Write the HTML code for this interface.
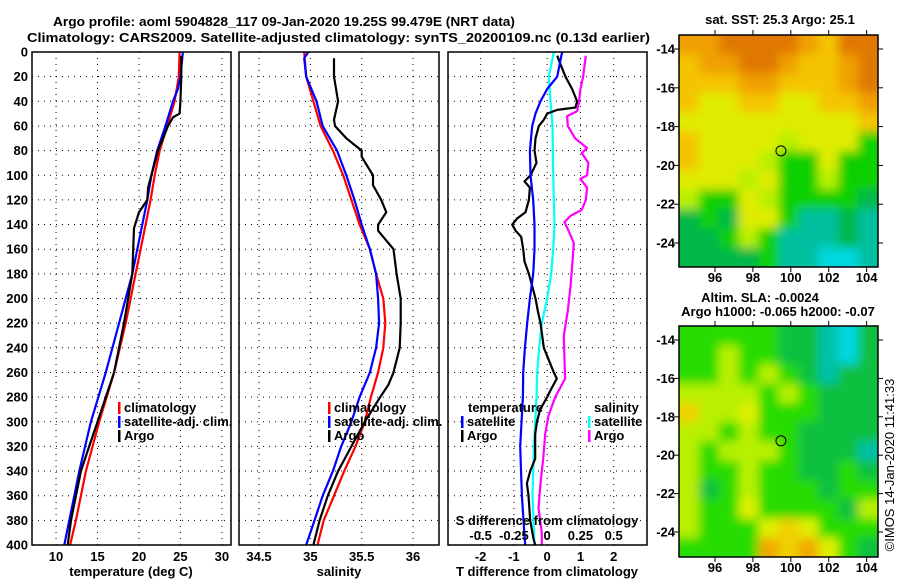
<!DOCTYPE html>
<html><head><meta charset="utf-8"><style>
html,body{margin:0;padding:0;background:#fff;}
svg text{font-family:"Liberation Sans",sans-serif;font-weight:bold;font-size:13px;fill:#000;}
</style></head><body>
<svg id="root" width="900" height="580" viewBox="0 0 900 580" xmlns="http://www.w3.org/2000/svg">
<defs>
<filter id="blur" x="-5%" y="-5%" width="110%" height="110%"><feGaussianBlur stdDeviation="5"/></filter>
<clipPath id="clipM1"><rect x="679" y="35" width="199" height="232"/></clipPath>
<clipPath id="clipM2"><rect x="679" y="326" width="199" height="231"/></clipPath>
</defs>
<text x="53" y="26" textLength="462" lengthAdjust="spacingAndGlyphs">Argo profile: aoml 5904828_117 09-Jan-2020 19.25S 99.479E (NRT data)</text>
<text x="27" y="42" textLength="623" lengthAdjust="spacingAndGlyphs">Climatology: CARS2009. Satellite-adjusted climatology: synTS_20200109.nc (0.13d earlier)</text>
<g id="g"></g>
</svg>
<script>
// ---------- data ----------
const depthTicks = [0,20,40,60,80,100,120,140,160,180,200,220,240,260,280,300,320,340,360,380,400];
const tempTicks = [10,15,20,25,30];
const salTicks = [34.5,35,35.5,36];
const salTickLabels = ["34.5","35","35.5","36"];
const tdiffTicks = [-2,-1,0,1,2];
const sdiffTicks = [-0.5,-0.25,0,0.25,0.5];
const sdiffTickLabels = ["-0.5","-0.25","0","0.25","0.5"];

const tClimDepth = [0,20,40,60,80,100,120,140,180,220,260,300,340,380,400];
const tClimVal   = [24.9,24.8,24.3,23.4,22.5,21.9,21.4,20.8,19.6,18.4,17.0,15.2,13.6,12.4,11.7];
const tSatDepth  = [0,20,30,40,60,80,100,120,140,180,220,260,300,340,380,400];
const tSatVal    = [25.3,25.0,24.7,24.1,23.2,22.2,21.5,21.0,20.4,19.2,17.6,16.0,14.2,12.8,11.6,11.0];
const tArgoDepth = [3,20,40,50,53,60,80,100,110,120,130,143,180,220,260,280,300,320,340,380,400];
const tArgoVal   = [25.1,25.1,25.0,24.9,24.1,23.5,22.3,21.5,21.1,21.0,20.0,19.4,19.2,18.2,17.0,16.0,15.0,14.0,13.0,11.8,11.4];

const sClimDepth = [0,20,40,60,80,100,120,140,160,180,200,220,240,260,280,300,320,340,360,380,400];
const sClimVal   = [34.94,34.96,35.03,35.10,35.22,35.32,35.40,35.48,35.58,35.64,35.71,35.73,35.71,35.66,35.59,35.53,35.44,35.33,35.23,35.13,35.07];
const sSatDepth  = [0,5,20,40,60,80,100,120,140,160,180,200,220,240,260,280,300,320,340,360,380,400];
const sSatVal    = [34.98,34.94,34.96,35.06,35.12,35.26,35.35,35.43,35.50,35.58,35.64,35.66,35.67,35.64,35.58,35.48,35.40,35.30,35.22,35.12,35.04,34.96];
const sArgoDepth = [5,20,40,55,60,70,80,85,100,108,120,130,140,145,160,180,200,220,240,260,270,280,300,320,340,360,380,400];
const sArgoVal   = [35.23,35.23,35.27,35.23,35.24,35.35,35.50,35.50,35.61,35.61,35.69,35.74,35.66,35.66,35.81,35.84,35.88,35.88,35.87,35.81,35.76,35.68,35.53,35.40,35.27,35.17,35.09,35.03];

const dTSatDepth = [0,20,30,40,50,60,80,100,120,140,160,180,200,220,240,260,280,320,360,380,400];
const dTSatVal   = [0.45,0.3,0,-0.2,-0.35,-0.45,-0.52,-0.5,-0.42,-0.38,-0.38,-0.42,-0.52,-0.6,-0.67,-0.72,-0.73,-0.81,-0.76,-0.71,-0.66];
const dTArgoDepth = [3,10,20,30,40,45,47,50,55,60,70,80,90,100,105,110,120,130,135,140,145,150,160,170,180,190,200,210,220,230,240,250,260,265,275,280,290,300,310,330,340,350,360,380,395,400];
const dTArgoVal   = [0.3,0.4,0.55,0.75,0.9,0.85,0.3,0,-0.1,-0.25,-0.35,-0.38,-0.32,-0.5,-0.68,-0.52,-0.55,-0.65,-0.9,-1.05,-0.95,-0.78,-0.72,-0.68,-0.55,-0.45,-0.35,-0.28,-0.2,-0.15,-0.1,0.05,0.2,0.29,0.09,0,-0.21,-0.31,-0.36,-0.36,-0.51,-0.61,-0.56,-0.51,-0.41,-0.36];
const dSSatDepth = [0,20,40,60,100,140,160,180,200,220,240,260,280,320,360,400];
const dSSatVal   = [0.05,0.0125,0.025,0.04,0.045,0.055,0.045,0.03,0,-0.04,-0.06,-0.075,-0.08,-0.1,-0.11,-0.095];
const dSArgoDepth = [3,20,30,40,48,52,60,70,78,82,90,100,103,110,120,128,133,138,145,155,170,190,210,230,250,265,280,295,310,330,350,370,390,400];
const dSArgoVal   = [0.29,0.27,0.25,0.24,0.225,0.15,0.155,0.21,0.3,0.26,0.31,0.3,0.25,0.3,0.29,0.26,0.175,0.13,0.16,0.2,0.19,0.175,0.155,0.125,0.13,0.135,0.06,0.01,-0.015,-0.03,-0.05,-0.065,-0.04,-0.04];

const latTicks = [-14,-16,-18,-20,-22,-24];
const lonTicks = [96,98,100,102,104];
const sstRows = ["ooOOOOolOO","looOOolloO","llloollloO","lyyllyyllo","yyyyyyyyyl","lyyyygyyyG","lyyygGGyGG","yyygyGGgGG","gGGygGGGGD","DGDyyGTTDT","DDGgGTTTDT","DDDDGTTCCT"];
const slaRows = ["GGGGGDDTCD","GGgGGDDTCD","GGgGgGDTDD","ggggGgGDDD","lggyGGGDDD","ggGgGGDDDD","gGgggGDDDT","gGGgGGDDGD","gDGgGGGDGG","gGGyGGGGDg","gGGGylyGGG","GGGGoloyGD"];
const argoLon = 99.479, argoLat = -19.25;

// ---------- drawing ----------
const NS="http://www.w3.org/2000/svg";
const G=document.getElementById('g');
function mk(tag,attrs,parent){const e=document.createElementNS(NS,tag);for(const k in attrs)e.setAttribute(k,attrs[k]);(parent||G).appendChild(e);return e;}
function txt(x,y,s,anchor,parent){const t=mk('text',{x:x,y:y,'text-anchor':anchor||'start'},parent);t.textContent=s;return t;}

const yTop=52, yBot=545;
const yD = d => yTop + d*(yBot-yTop)/400;
const panels = [
 {x0:32,x1:231,vmin:7.1,vmax:31.1},
 {x0:239,x1:439,vmin:34.305,vmax:36.253},
 {x0:448,x1:647,vmin:-2.98,vmax:3.0}
];
function xf(p){return v => p.x0 + (v-p.vmin)*(p.x1-p.x0)/(p.vmax-p.vmin);}
const xT=xf(panels[0]), xS=xf(panels[1]), xDT=xf(panels[2]);
const xDS = v => xDT(v*4);

function grid(p, xt, xs, name){
  const g=mk('g',{});
  
  
  depthTicks.slice(1,-1).forEach(d=>mk('line',{x1:p.x0,x2:p.x1,y1:yD(d),y2:yD(d),stroke:'#000','stroke-width':1,'stroke-dasharray':'1,5'},g));
  xt.forEach(v=>{const x=xs(v); if(x>p.x0+2&&x<p.x1-2) mk('line',{x1:x,x2:x,y1:yTop,y2:yBot,stroke:'#000','stroke-width':1,'stroke-dasharray':'1,5'},g);});
}
function frame(p,name){
  const r=mk('rect',{x:p.x0,y:yTop,width:p.x1-p.x0,height:yBot-yTop,fill:'none',stroke:'#000','stroke-width':1.5});
  
  
}
function line(ds,vs,xs,color,name){
  const pts=ds.map((d,i)=>xs(vs[i]).toFixed(1)+','+yD(d).toFixed(1)).join(' ');
  const l=mk('polyline',{points:pts,fill:'none',stroke:color,'stroke-width':2.2,'stroke-linejoin':'round'});
  
  
}

grid(panels[0],tempTicks,xT,'temperature');
grid(panels[1],salTicks,xS,'salinity');
grid(panels[2],tdiffTicks,xDT,'difference');

line(tClimDepth,tClimVal,xT,'#ff0000','temp-climatology-line');
line(tSatDepth,tSatVal,xT,'#0000ff','temp-satellite-line');
line(tArgoDepth,tArgoVal,xT,'#000000','temp-argo-line');
line(sClimDepth,sClimVal,xS,'#ff0000','sal-climatology-line');
line(sSatDepth,sSatVal,xS,'#0000ff','sal-satellite-line');
line(sArgoDepth,sArgoVal,xS,'#000000','sal-argo-line');
line(dSArgoDepth,dSArgoVal,xDS,'#ff00ff','sdiff-argo-line');
line(dSSatDepth,dSSatVal,xDS,'#00ffff','sdiff-satellite-line');
line(dTArgoDepth,dTArgoVal,xDT,'#000000','tdiff-argo-line');
line(dTSatDepth,dTSatVal,xDT,'#0000ff','tdiff-satellite-line');

frame(panels[0],'temperature-panel');
frame(panels[1],'salinity-panel');
frame(panels[2],'difference-panel');

depthTicks.forEach(d=>{
  const t=txt(28,yD(d)+4.5,String(d),'end');
  
  
});
tempTicks.forEach(v=>{const t=txt(xT(v),561,String(v),'middle');
  
  });
salTicks.forEach((v,i)=>{const t=txt(xS(v),561,salTickLabels[i],'middle');
  
  });
tdiffTicks.forEach(v=>{const t=txt(xDT(v),561,String(v),'middle');
  
  });
sdiffTicks.forEach((v,i)=>{const t=txt(xDS(v),540,sdiffTickLabels[i],'middle');
  
  });
let t;
t=txt(131,576,'temperature (deg C)','middle');  
t=txt(339,576,'salinity','middle');  
t=txt(547,576,'T difference from climatology','middle');  
t=txt(547,525,'S difference from climatology','middle');  

function leg(x,y,color,label){
  const g=mk('g',{});
  
  
  if(color) mk('rect',{x:x,y:y-10,width:2.5,height:12,fill:color},g);
  txt(x+6,y,label,'start',g);
}
leg(118,412,'#ff0000','climatology');
leg(118,426,'#0000ff','satellite-adj. clim.');
leg(118,440,'#000000','Argo');
leg(328,412,'#ff0000','climatology');
leg(328,426,'#0000ff','satellite-adj. clim.');
leg(328,440,'#000000','Argo');
leg(462,412,null,'temperature');
leg(461,426,'#0000ff','satellite');
leg(461,440,'#000000','Argo');
leg(588,412,null,'salinity');
leg(588,426,'#00ffff','satellite');
leg(588,440,'#ff00ff','Argo');

const colors={O:'#e07800',o:'#f0a000',l:'#f4c400',y:'#e0ec00',g:'#b8f000',G:'#10d000',D:'#00b848',T:'#00c0a0',C:'#00d8e0'};
const slaColors={O:'#e89000',o:'#f0a800',l:'#f0d000',y:'#e0f000',g:'#b8f000',G:'#28dc00',D:'#08c040',T:'#00c0a8',C:'#00d8e0'};
const lonMin=94.1, lonMax=104.6;
function drawMap(y0,y1,rows,cmap,clip,name,latPx0,latPxScale){
  const x0=679,x1=878;
  const xl=v=>x0+(v-lonMin)*(x1-x0)/(lonMax-lonMin);
  const yl=v=>latPx0+(-14-v)*latPxScale;
  const g=mk('g',{'clip-path':'url(#'+clip+')'});
  
  
  const inner=mk('g',{filter:'url(#blur)'},g);
  const nr=rows.length,nc=rows[0].length;
  const cw=(x1-x0)/nc, ch=(y1-y0)/nr;
  mk('rect',{x:x0-20,y:y0-20,width:x1-x0+40,height:y1-y0+40,fill:cmap.G},inner);
  rows.forEach((r,ri)=>{for(let ci=0;ci<nc;ci++){
    mk('rect',{x:x0+ci*cw-(ci==0?15:0),y:y0+ri*ch-(ri==0?15:0),width:cw+(ci==0||ci==nc-1?15:0)+0.5,height:ch+(ri==0||ri==nr-1?15:0)+0.5,fill:cmap[r[ci]]},inner);
  }});
  const b=mk('rect',{x:x0,y:y0,width:x1-x0,height:y1-y0,fill:'none',stroke:'#000','stroke-width':1.5});
  
  
  latTicks.forEach(v=>{const y=yl(v); mk('line',{x1:x0-5,x2:x0,y1:y,y2:y,stroke:'#000'}); mk('line',{x1:x1,x2:x1+5,y1:y,y2:y,stroke:'#000'});
    const tt=txt(x0-4,y+4.5,String(v),'end');  });
  lonTicks.forEach(v=>{const x=xl(v); mk('line',{x1:x,x2:x,y1:y0-5,y2:y0,stroke:'#000'}); mk('line',{x1:x,x2:x,y1:y1,y2:y1+5,stroke:'#000'});
    const tt=txt(x,y1+15,String(v),'middle');  });
  const c=mk('circle',{cx:xl(argoLon),cy:yl(argoLat),r:5,fill:'none',stroke:'#000','stroke-width':1});
  
  
}
drawMap(35,267,sstRows,colors,'clipM1','sst-map',49,19.4);
drawMap(326,557,slaRows,slaColors,'clipM2','sla-map',340,19.2);
t=txt(780,24,'sat. SST: 25.3 Argo: 25.1','middle');  
t=txt(760,302,'Altim. SLA: -0.0024','middle');  
t=txt(778,316,'Argo h1000: -0.065 h2000: -0.07','middle');  
t=txt(0,0,'©IMOS 14-Jan-2020 11:41:33','middle'); t.setAttribute('transform','translate(894,465) rotate(-90)'); t.setAttribute('style','font-weight:normal');
 
</script>
</body></html>
